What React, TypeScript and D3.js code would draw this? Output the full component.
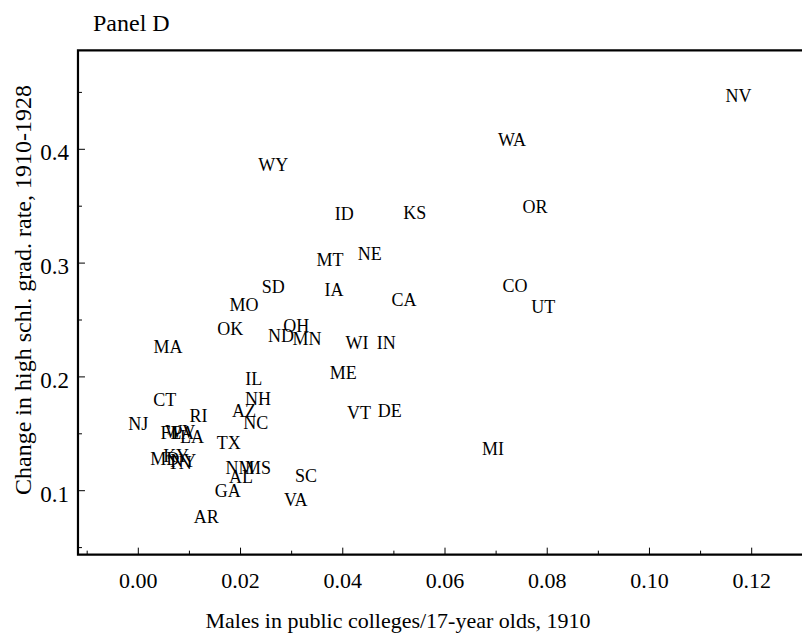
import * as d3 from "d3";

const WIDTH = 802;
const HEIGHT = 636;
const FONT = "'Liberation Serif', 'Times New Roman', serif";

// state labels and their (x, y) values
const STATES = [
  "NV", "WA", "WY", "OR", "ID", "KS", "MT", "NE", "SD", "IA", "CA", "CO",
  "UT", "MO", "OK", "OH", "ND", "MN", "WI", "IN", "MA", "ME", "IL", "CT",
  "NH", "AZ", "VT", "DE", "RI", "NC", "NJ", "FL", "PA", "WV", "LA", "TX",
  "MI", "MD", "KY", "NY", "TN", "NM", "MS", "AL", "SC", "GA", "VA", "AR",
];
const COLLEGE_SHARE = [
  0.1174, 0.0731, 0.0264, 0.0776, 0.0403, 0.0541, 0.0375, 0.0453, 0.0264, 0.0383, 0.052, 0.0737,
  0.0792, 0.0207, 0.018, 0.0309, 0.0279, 0.033, 0.0428, 0.0485, 0.0058, 0.0401, 0.0226, 0.0052,
  0.0234, 0.0207, 0.0432, 0.0492, 0.0118, 0.023, 0.0, 0.0064, 0.0088, 0.0082, 0.0105, 0.0177,
  0.0694, 0.0052, 0.0074, 0.0088, 0.0081, 0.0199, 0.0234, 0.0201, 0.0328, 0.0175, 0.0308, 0.0133,
];
const GRAD_CHANGE = [
  0.4468, 0.4082, 0.3862, 0.3494, 0.3431, 0.344, 0.3027, 0.308, 0.279, 0.2764, 0.2676, 0.2799,
  0.2614, 0.2632, 0.2421, 0.2447, 0.2359, 0.2332, 0.2297, 0.2297, 0.2262, 0.2034, 0.1981, 0.1797,
  0.1805, 0.17, 0.1682, 0.17, 0.1656, 0.1595, 0.1586, 0.1507, 0.1507, 0.1515, 0.147, 0.1417,
  0.1366, 0.128, 0.1305, 0.1265, 0.124, 0.1197, 0.1197, 0.1117, 0.1126, 0.0998, 0.0919, 0.077,
];

const X_TICKS = [0, 0.02, 0.04, 0.06, 0.08, 0.1, 0.12];
const X_MINOR = [-0.01, 0.01, 0.03, 0.05, 0.07, 0.09, 0.11, 0.13];
const Y_TICKS = [0.1, 0.2, 0.3, 0.4];
const Y_MINOR = [0.05, 0.15, 0.25, 0.35, 0.45];

// plot region edges, in data units
const X_MIN = -0.0118;
const X_MAX = 0.135;
const Y_MIN = 0.0438;
const Y_MAX = 0.487;

export default function App() {
  const x = d3.scaleLinear().domain([0, 0.12]).range([138.3, 751.7]);
  const y = d3.scaleLinear().domain([0.1, 0.4]).range([490.7, 149.3]);

  const left = x(X_MIN);
  const right = x(X_MAX);
  const top = y(Y_MAX);
  const bottom = y(Y_MIN);

  const points = STATES.map((s, i) => ({ s, cx: x(COLLEGE_SHARE[i]), cy: y(GRAD_CHANGE[i]) }));

  return (
    <svg
      width={WIDTH}
      height={HEIGHT}
      style={{ position: "absolute", left: 0, top: 0, background: "#fff" }}
      fontFamily={FONT}
    >
      <text x={93} y={31} fontSize={24}>Panel D</text>

      {/* frame */}
      <path
        d={`M${right},${top}H${left}V${bottom}H${right}`}
        fill="none"
        stroke="#000"
        strokeWidth={2.2}
      />

      {/* x ticks */}
      {X_TICKS.map((t) => (
        <g key={`xt${t}`}>
          <line x1={x(t)} x2={x(t)} y1={bottom} y2={bottom - 7} stroke="#000" strokeWidth={1} />
          <text x={x(t)} y={588} textAnchor="middle" fontSize={22}>{t.toFixed(2)}</text>
        </g>
      ))}
      {X_MINOR.map((t) => (
        <line key={`xm${t}`} x1={x(t)} x2={x(t)} y1={bottom} y2={bottom - 4} stroke="#000" strokeWidth={1} />
      ))}

      {/* y ticks */}
      {Y_TICKS.map((t) => (
        <g key={`yt${t}`}>
          <line x1={left} x2={left + 7} y1={y(t)} y2={y(t)} stroke="#000" strokeWidth={1} />
          <text x={69} y={y(t) + 11} textAnchor="end" fontSize={23}>{t.toFixed(1)}</text>
        </g>
      ))}
      {Y_MINOR.map((t) => (
        <line key={`ym${t}`} x1={left} x2={left + 4} y1={y(t)} y2={y(t)} stroke="#000" strokeWidth={1} />
      ))}

      {/* state labels */}
      {points.map((p) => (
        <text
          key={p.s}
          x={p.cx}
          y={p.cy}
          textAnchor="middle"
          dominantBaseline="central"
          fontSize={18}
        >
          {p.s}
        </text>
      ))}

      {/* axis titles */}
      <text x={398} y={628} textAnchor="middle" fontSize={22}>
        Males in public colleges/17-year olds, 1910
      </text>
      <text
        transform={`translate(31,${290}) rotate(-90)`}
        textAnchor="middle"
        fontSize={24}
      >
        Change in high schl. grad. rate, 1910-1928
      </text>
    </svg>
  );
}
